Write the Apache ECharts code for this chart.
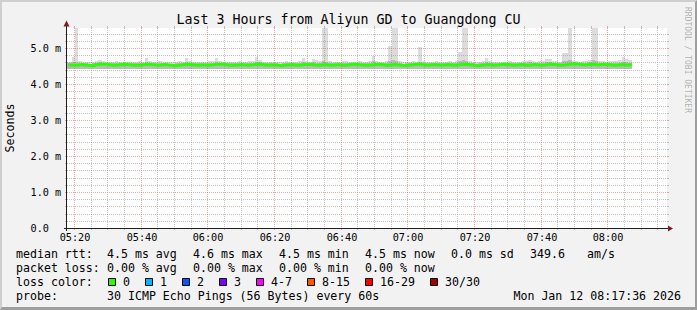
<!DOCTYPE html>
<html>
<head>
<meta charset="utf-8">
<script src="https://cdn.jsdelivr.net/npm/echarts@6.0.0/dist/echarts.min.js"></script>
<style>
html,body{margin:0;padding:0;background:#f2f2f2;}
#chart{width:697px;height:310px;}
</style>
</head>
<body>
<div id="chart"></div>
<script>
// ---------------- data ----------------
const FIRST_MINUTE = 318;      // first sample 05:18, one sample per minute
const X_MIN = 317.6;           // 05:17:36 (minutes since midnight)
const X_MAX = 497.6;           // 08:17:36
const Y_MAX = 5.5556;          // ms at top of the canvas
const SMOKE_FLOOR = 4.43;      // fastest pings (ms)

const medianRtt = [
  4.53,4.53,4.52,4.53,4.54,4.53,4.52,4.51,4.51,4.54,
  4.55,4.55,4.54,4.53,4.52,4.53,4.54,4.55,4.54,4.53,
  4.52,4.52,4.53,4.54,4.55,4.54,4.53,4.52,4.53,4.54,
  4.53,4.52,4.51,4.52,4.53,4.54,4.55,4.54,4.53,4.52,
  4.53,4.53,4.52,4.53,4.54,4.55,4.55,4.54,4.53,4.52,
  4.52,4.53,4.54,4.53,4.52,4.53,4.54,4.55,4.54,4.53,
  4.52,4.53,4.53,4.52,4.51,4.52,4.53,4.54,4.53,4.52,
  4.53,4.54,4.55,4.54,4.53,4.52,4.53,4.54,4.53,4.52,
  4.53,4.54,4.53,4.52,4.53,4.54,4.55,4.54,4.53,4.52,
  4.52,4.53,4.54,4.55,4.54,4.53,4.52,4.53,4.54,4.53,
  4.52,4.51,4.52,4.53,4.54,4.55,4.54,4.53,4.52,4.53,
  4.54,4.53,4.52,4.53,4.54,4.53,4.52,4.53,4.54,4.55,
  4.54,4.53,4.52,4.51,4.52,4.53,4.54,4.53,4.52,4.53,
  4.54,4.55,4.54,4.53,4.52,4.53,4.54,4.53,4.52,4.53,
  4.54,4.53,4.52,4.53,4.54,4.55,4.54,4.53,4.52,4.53,
  4.54,4.55,4.56,4.55,4.54,4.53,4.54,4.55,4.54,4.53,
  4.54,4.55,4.54,4.53,4.52,4.53,4.54,4.53,4.53,4.54
];
const smokeMax = [
  4.62,4.60,4.76,5.70,4.63,4.62,4.61,4.60,4.62,4.63,
  4.67,4.63,4.62,4.61,4.62,4.63,4.61,4.60,4.61,4.62,
  4.61,4.62,4.63,4.62,4.72,4.63,4.61,4.62,4.64,4.62,
  4.61,4.60,4.61,4.62,4.63,4.62,4.72,4.63,4.62,4.61,
  4.62,4.61,4.62,4.63,4.64,4.72,4.63,4.62,4.61,4.62,
  4.61,4.62,4.63,4.62,4.61,4.63,4.64,4.75,4.68,4.62,
  4.61,4.62,4.61,4.60,4.61,4.62,4.63,4.62,4.61,4.62,
  4.63,4.72,4.63,4.62,4.70,4.68,4.64,5.70,5.70,4.63,
  4.62,4.61,4.62,4.65,4.63,4.62,4.61,4.62,4.63,4.62,
  4.61,4.63,4.78,4.64,4.62,4.61,4.63,5.05,5.70,5.70,
  4.63,4.62,4.61,4.62,4.63,4.62,5.04,4.63,4.62,4.61,
  4.62,4.63,4.62,4.61,4.62,4.63,4.62,4.64,4.90,5.70,
  5.70,4.63,4.62,4.61,4.62,4.63,4.72,4.63,4.62,4.61,
  4.62,4.61,4.62,4.63,4.62,4.61,4.62,4.63,4.64,4.67,
  4.63,4.62,4.63,4.64,4.70,4.70,4.64,4.63,4.62,4.86,
  4.86,5.70,4.64,4.63,4.62,4.63,4.64,4.66,5.70,5.70,
  4.64,4.63,4.62,4.63,4.64,4.65,4.66,4.74,4.70,4.66
];
const smokeMid = [
  4.58,4.57,4.60,4.62,4.58,4.57,4.57,4.56,4.57,4.58,
  4.60,4.59,4.58,4.57,4.57,4.58,4.58,4.59,4.58,4.57,
  4.57,4.57,4.58,4.58,4.61,4.58,4.57,4.57,4.58,4.58,
  4.57,4.56,4.56,4.57,4.58,4.58,4.61,4.58,4.58,4.57,
  4.58,4.57,4.57,4.58,4.59,4.61,4.59,4.58,4.57,4.57,
  4.57,4.58,4.58,4.58,4.57,4.58,4.59,4.62,4.60,4.58,
  4.57,4.58,4.57,4.57,4.56,4.57,4.58,4.58,4.57,4.57,
  4.58,4.61,4.59,4.58,4.60,4.59,4.58,4.63,4.62,4.57,
  4.58,4.58,4.58,4.59,4.58,4.58,4.59,4.58,4.58,4.57,
  4.57,4.58,4.63,4.59,4.58,4.57,4.58,4.64,4.66,4.63,
  4.57,4.56,4.57,4.58,4.58,4.59,4.62,4.58,4.57,4.57,
  4.58,4.58,4.57,4.57,4.58,4.58,4.57,4.58,4.64,4.66,
  4.63,4.58,4.57,4.56,4.57,4.58,4.61,4.58,4.57,4.57,
  4.58,4.59,4.58,4.58,4.57,4.57,4.58,4.58,4.59,4.61,
  4.58,4.58,4.57,4.58,4.61,4.62,4.59,4.58,4.57,4.63,
  4.63,4.66,4.61,4.59,4.58,4.58,4.59,4.60,4.66,4.64,
  4.59,4.59,4.58,4.58,4.58,4.58,4.59,4.62,4.60,4.59
];

const xTickValues  = [320,340,360,380,400,420,440,460,480];
const xTickLabels  = ['05:20','05:40','06:00','06:20','06:40','07:00','07:20','07:40','08:00'];
const xMinorValues = [325,330,335,345,350,355,365,370,375,385,390,395,405,410,415,
                      425,430,435,445,450,455,465,470,475,485,490,495];
const yTickValues  = [0,1,2,3,4,5];
const yTickLabels  = ['0.0','1.0 m','2.0 m','3.0 m','4.0 m','5.0 m'];
const yMinorValues = [0.2,0.4,0.6,0.8,1.2,1.4,1.6,1.8,2.2,2.4,2.6,2.8,3.2,3.4,3.6,3.8,
                      4.2,4.4,4.6,4.8,5.2,5.4];

const titleText   = 'Last 3 Hours from Aliyun GD to Guangdong CU';
const unitText    = 'Seconds';
const watermark   = 'RRDTOOL / TOBI OETIKER';
const rowLabels   = ['median rtt:','packet loss:','loss color:','probe:'];
const rttStats    = ['4.5 ms avg','4.6 ms max','4.5 ms min','4.5 ms now','0.0 ms sd','349.6','am/s'];
const lossStats   = ['0.00 % avg','0.00 % max','0.00 % min','0.00 % now'];
const lossLabels  = ['0','1','2','3','4-7','8-15','16-29','30/30'];
const probeText   = '30 ICMP Echo Pings (56 Bytes) every 60s';
const stampText   = 'Mon Jan 12 08:17:36 2026';

// ---------------- styles / layout ----------------
const lossColors = ['#26ff00','#00b8ff','#0059ff','#7e00ff','#ff00ff','#ff5500','#ff0000','#a10000'];
const MONO = '"DejaVu Sans Mono", monospace';
const statCols = [107,193,279,365,451,530,587];
const boxCols  = [108,145,182,219,256,307,365,430];
const rowY     = [254,268,282,296];

(function () {
const pts = arr => arr.map((v, i) => [FIRST_MINUTE + i, v]);

const chart = echarts.init(document.getElementById('chart'), null, {renderer: 'svg', width: 697, height: 310});

// one smoke block per one-minute sample, from the fastest ping up to the given value
function smokeSeries(values, color, z) {
  return {
    type: 'custom', silent: true, z: z, clip: true,
    data: values.map((v, i) => [FIRST_MINUTE + i, SMOKE_FLOOR, v]),
    encode: {x: 0, y: [1, 2]},
    renderItem: function (params, api) {
      const t = api.value(0);
      const a = api.coord([t - 1, api.value(2)]);
      const b = api.coord([t, api.value(1)]);
      const x1 = Math.round(a[0]), x2 = Math.round(b[0]);
      const y1 = Math.round(a[1]), y2 = Math.round(b[1]);
      const cs = params.coordSys;
      const r = echarts.graphic.clipRectByRect(
        {x: x1, y: y1, width: x2 - x1, height: y2 - y1},
        {x: cs.x, y: cs.y, width: cs.width, height: cs.height});
      if (!r) return null;
      return {type: 'rect', shape: r, style: {fill: color, stroke: null}};
    }
  };
}

const hidden = {axisLine:{show:false}, axisTick:{show:false}, axisLabel:{show:false}, splitLine:{show:false}};
const option = {
  backgroundColor: '#f2f2f2',
  animation: false,
  grid: {left: 67, top: 28, width: 600, height: 200, show: true, backgroundColor: '#ffffff', borderWidth: 0},
  xAxis: Object.assign({type: 'value', min: X_MIN, max: X_MAX}, hidden),
  yAxis: Object.assign({type: 'value', min: 0, max: Y_MAX}, hidden),
  series: [
    smokeSeries(smokeMax, '#dcdcdc', 2),
    smokeSeries(smokeMid, '#bababa', 2),
    {type:'line', data: pts(medianRtt), step:'start', symbol:'none', silent:true,
     lineStyle:{color:'#26ff00', width:3}, z:4}
  ]
};
chart.setOption(option);

// ---------------- decorations from the chart's own scales ----------------
const P = (x, y) => chart.convertToPixel({gridIndex: 0}, [x, y]);
const pLeft = P(X_MIN, 0)[0], pRight = P(X_MAX, 0)[0];
const pBottom = P(X_MIN, 0)[1], pTop = P(X_MIN, Y_MAX)[1];
const GRID_C = 'rgba(143,143,143,0.55)';
const MGRID_C = 'rgba(222,79,79,0.5)';
const g = [];
const line = (x1, y1, x2, y2, stroke, dash, z) => g.push({type:'line', silent:true, z: z || 3,
  shape:{x1, y1, x2, y2}, style:{stroke, lineWidth:1, lineDash: dash || null}});
const text = (x, y, str, size, align, vAlign, extra) => g.push(Object.assign({type:'text', silent:true, z:6, x, y,
  style:{text: str, font: size + 'px ' + MONO, fill:'#000', textAlign: align, align: align,
         textVerticalAlign: vAlign, verticalAlign: vAlign}}, extra || {}));

// frame shading
g.push({type:'polygon', silent:true, z:1, shape:{points:[[0,0],[697,0],[695,2],[2,2],[2,307],[0,310]]}, style:{fill:'#cfcfcf'}});
g.push({type:'polygon', silent:true, z:1, shape:{points:[[697,0],[697,310],[0,310],[2,307],[695,307],[695,2]]}, style:{fill:'#9e9e9e'}});

// horizontal grid
yMinorValues.forEach(v => {
  const y = Math.round(P(X_MIN, v)[1]) + 0.5;
  line(pLeft, y, pRight, y, GRID_C, [1,1]);
  line(pLeft - 2, y, pLeft, y, GRID_C); line(pRight, y, pRight + 2, y, GRID_C);
});
yTickValues.forEach((v, i) => {
  const y = Math.round(P(X_MIN, v)[1]) + 0.5;
  if (v > 0) { line(pLeft, y, pRight, y, MGRID_C, [1,1]); }
  line(pLeft - 2, y, pLeft, y, MGRID_C); line(pRight, y, pRight + 2, y, MGRID_C);
  text(30.5, y, yTickLabels[i], 10.2, 'left', 'middle');
});
// vertical grid
xMinorValues.forEach(v => {
  const x = Math.round(P(v, 0)[0]) - 0.5;
  line(x, pTop, x, pBottom, GRID_C, [1,1]);
  line(x, pTop - 2, x, pTop, GRID_C); line(x, pBottom, x, pBottom + 2, GRID_C);
});
xTickValues.forEach((v, i) => {
  const x = Math.round(P(v, 0)[0]) - 0.5;
  line(x, pTop, x, pBottom, MGRID_C, [1,1]);
  line(x, pTop - 2, x, pTop, MGRID_C); line(x, pBottom, x, pBottom + 2, MGRID_C);
  text(x + 0.5, 237.5, xTickLabels[i], 10.2, 'center', 'middle');
});

// axes + arrows
line(pLeft - 0.5, pBottom + 3, pLeft - 0.5, pTop - 4, '#1f1f1f', null, 5);
line(pLeft - 3, pBottom + 0.5, pRight + 4, pBottom + 0.5, '#1f1f1f', null, 5);
g.push({type:'polygon', silent:true, z:5, shape:{points:[[pLeft-3.5, pTop-1.5],[pLeft+2.5, pTop-1.5],[pLeft-0.5, pTop-7.5]]}, style:{fill:'#7f1f1f'}});
g.push({type:'polygon', silent:true, z:5, shape:{points:[[pRight+1, pBottom-2.5],[pRight+1, pBottom+3.5],[pRight+6, pBottom+0.5]]}, style:{fill:'#7f1f1f'}});

// title, unit, watermark
text(348.5, 19.5, titleText, 13.3, 'center', 'middle');
text(10, 128, unitText, 11.6, 'center', 'middle', {rotation: Math.PI / 2});
g.push({type:'text', silent:true, z:6, x:687.5, y:60, rotation: -Math.PI / 2,
  style:{text: watermark, font: '8px ' + MONO, fill:'rgba(0,0,0,0.3)', textAlign:'center', align:'center',
         textVerticalAlign:'middle', verticalAlign:'middle'}});

// legend
rowLabels.forEach((s, i) => text(16, rowY[i], s, 11.6, 'left', 'middle'));
rttStats.forEach((s, i) => text(statCols[i], rowY[0], s, 11.6, 'left', 'middle'));
lossStats.forEach((s, i) => text(statCols[i], rowY[1], s, 11.6, 'left', 'middle'));
lossLabels.forEach((s, i) => {
  g.push({type:'rect', silent:true, z:6, shape:{x: boxCols[i] + 0.5, y: rowY[2] - 3.5, width: 7, height: 7},
          style:{fill: lossColors[i], stroke:'#000', lineWidth:1}});
  text(boxCols[i] + 15, rowY[2], s, 11.6, 'left', 'middle');
});
text(statCols[0], rowY[3], probeText, 11.6, 'left', 'middle');
text(681, rowY[3], stampText, 11.6, 'right', 'middle');

chart.setOption({graphic: g});
})();
</script>
</body>
</html>
